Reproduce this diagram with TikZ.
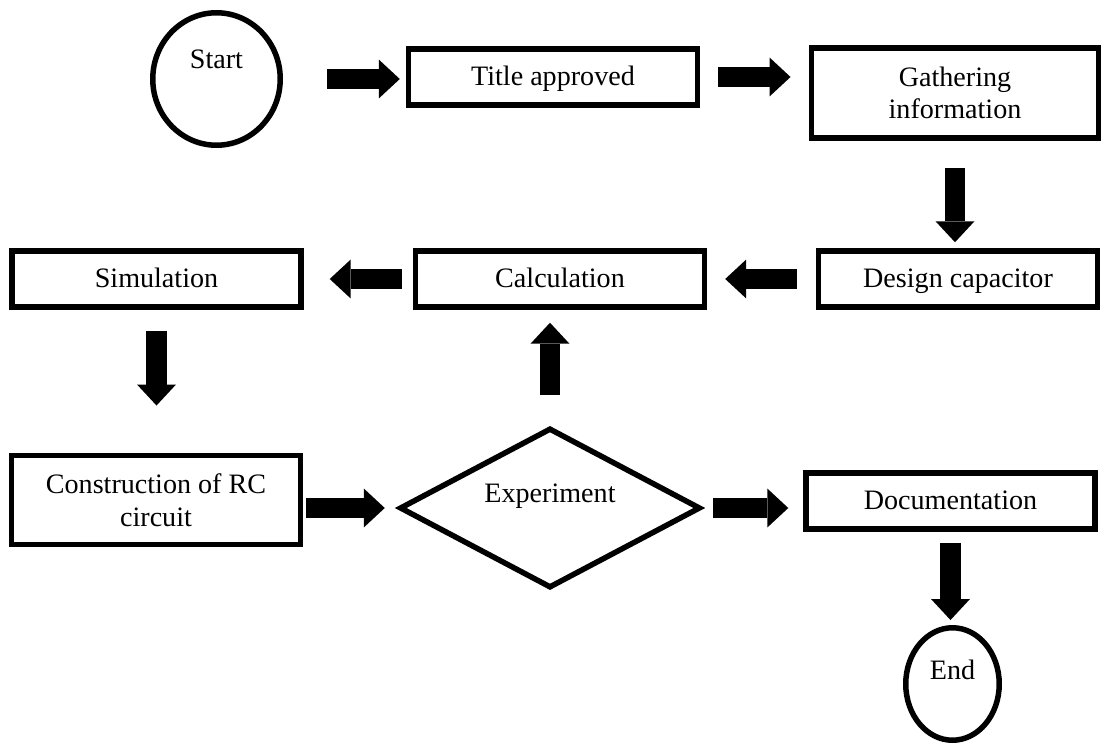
\documentclass[tikz,border=0pt]{standalone}
\usepackage{fontspec}
\setmainfont{Liberation Serif}
\usetikzlibrary{arrows.meta,shapes.geometric}

\begin{document}
\begin{tikzpicture}[x=0.02cm,y=-0.02cm,font=\fontsize{16}{18.5}\selectfont,
  box/.style={draw,line width=0.11cm,inner sep=0pt,align=center,minimum width=5.78cm,minimum height=1.12cm},
  oneline/.style={box,text height=0.44cm,text depth=0.08cm},
  terminal/.style={draw,ellipse,line width=0.11cm,inner sep=0pt,text height=0.4cm},
  fat/.style={line width=0.41cm,-{Triangle[length=0.42cm,width=0.78cm,line width=0pt]}}]
\useasboundingbox (0,0) rectangle (1103,743);
% steps
\node[terminal,minimum width=2.55cm,minimum height=2.65cm,text depth=0.8cm] (start) at (216.5,79) {Start};
\node[oneline] (title) at (553,77) {Title approved};
\node[box,minimum width=5.75cm,minimum height=1.81cm] (gather) at (955,93) {Gathering\\information};
\node[oneline,minimum width=5.59cm] (design) at (958,279) {Design capacitor};
\node[oneline] (calc) at (560,279) {Calculation};
\node[oneline] (sim) at (156.5,279) {Simulation};
\node[box,minimum height=1.79cm] (constr) at (156,500) {Construction of RC\\circuit};
\node[draw,diamond,aspect=1.9,line width=0.11cm,inner sep=0pt,minimum width=6.02cm,minimum height=3.2cm,text height=0.4cm,text depth=0.64cm] (exper) at (550,508) {Experiment};
\node[oneline] (doc) at (950.5,501) {Documentation};
\node[terminal,minimum width=1.87cm,minimum height=2.25cm,text depth=0.6cm] (stop) at (952.5,684) {End};
% block arrows
\draw[fat,shorten <=0.88cm,shorten >=0.12cm] (start.east) -- (start.east -| title.west);
\draw[fat,shorten <=0.36cm,shorten >=0.36cm] (title.east) -- (title.east -| gather.west);
\draw[fat,shorten <=0.54cm,shorten >=0.12cm] (gather.south) -- (gather.south |- design.north);
\draw[fat,shorten <=0.38cm,shorten >=0.36cm] (design.west) -- (design.west -| calc.east);
\draw[fat,shorten <=0.22cm,shorten >=0.52cm] (calc.west) -- (calc.west -| sim.east);
\draw[fat,shorten <=0.42cm,shorten >=0.94cm] (sim.south) -- (sim.south |- constr.north);
\draw[fat,shorten <=0.06cm,shorten >=0.24cm] (exper.west -| constr.east) -- (exper.west);
\draw[fat,shorten <=0.6cm,shorten >=0.26cm] (exper.north) -- (exper.north |- calc.south);
\draw[fat,shorten <=0.2cm,shorten >=0.3cm] (exper.east) -- (exper.east -| doc.west);
\draw[fat,shorten <=0.22cm,shorten >=0.1cm] (doc.south) -- (doc.south |- stop.north);
\end{tikzpicture}
\end{document}
